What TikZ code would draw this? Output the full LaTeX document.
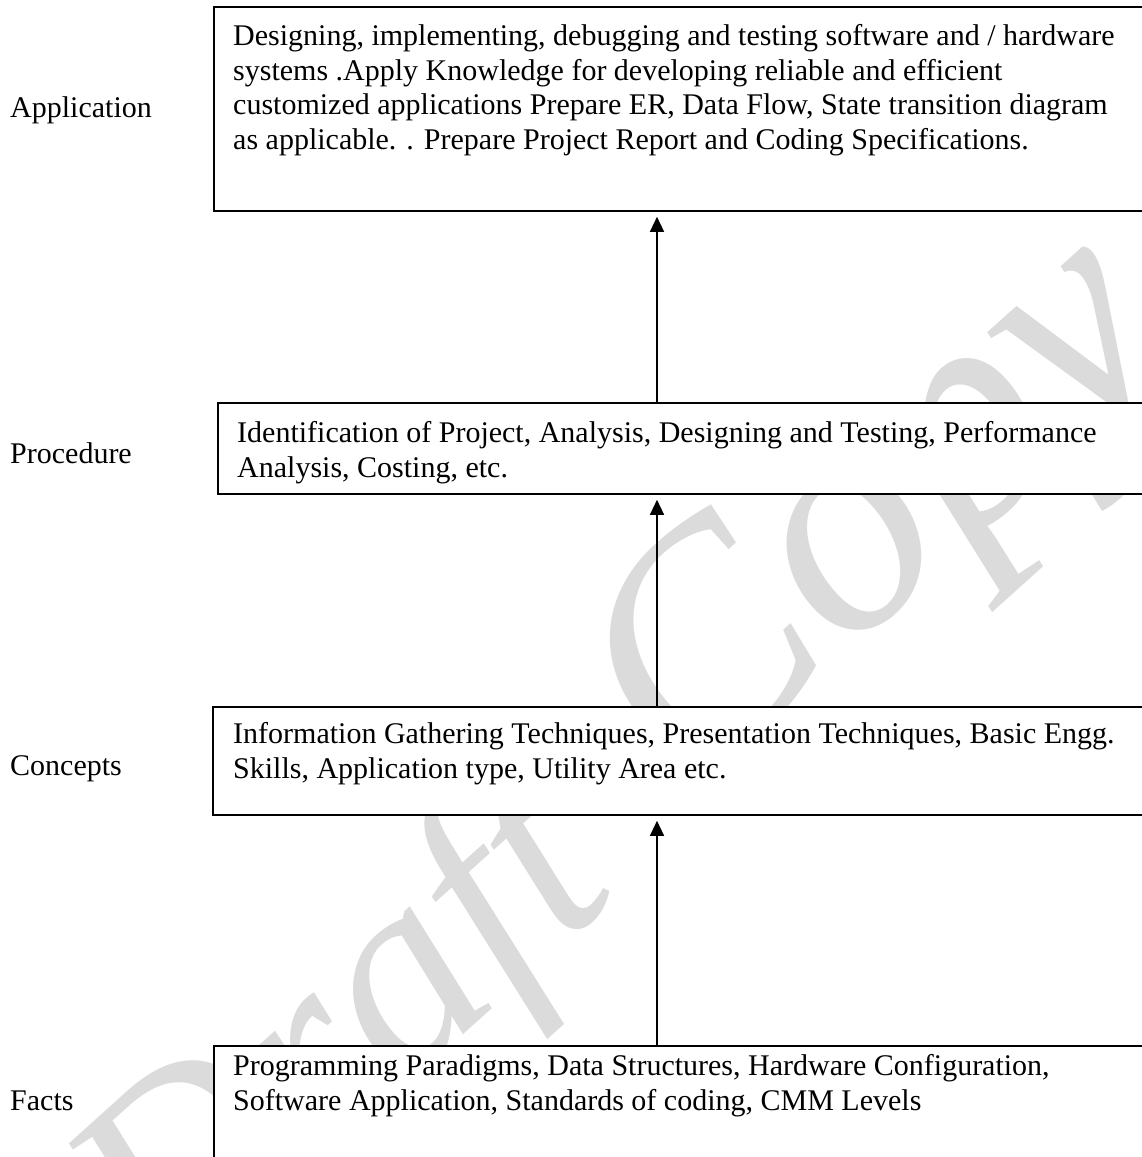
\documentclass[tikz,border=0pt]{standalone}
\usepackage{fontspec}
\setmainfont{Liberation Serif}
\usetikzlibrary{arrows.meta}
\begin{document}
\begin{tikzpicture}[x=1pt,y=-1pt,
  boxst/.style={draw, fill=white, line width=1.8pt, rectangle, inner sep=0pt, anchor=north west},
  txt/.style={anchor=north west, align=left, inner sep=0pt, font=\fontsize{30}{34.4}\selectfont},
  lbl/.style={anchor=base west, inner sep=0pt, font=\fontsize{30}{34.4}\selectfont},
  arr/.style={line width=1.3pt, -{Triangle[length=15pt,width=14pt]}, shorten >=5pt},
  wmark/.style={inner sep=0pt, text=gray!28, rotate=42, font=\fontsize{280}{280}\selectfont\itshape},
  wmarkb/.style={wmark, font=\fontsize{315}{315}\selectfont\itshape}]
\useasboundingbox (0,0) rectangle (1142,1157);
\clip (0,0) rectangle (1142,1157);
\fill[white] (0,0) rectangle (1142,1157);
% watermark
\node[wmark] (wm1) at (350,1045) {Draft};
\node[wmarkb] (wm2) at (888,522) {Copy};
% boxes
\node[boxst, minimum width=1000pt, minimum height=204pt] (appbox) at (213,6) {};
\node[boxst, minimum width=1000pt, minimum height=91pt] (procbox) at (217,402) {};
\node[boxst, minimum width=1000pt, minimum height=108pt] (concbox) at (212,706) {};
\node[boxst, minimum width=1000pt, minimum height=200pt] (factbox) at (213,1045) {};
% texts
\node[txt] (apptxt) at (233,24.5) {Designing, implementing, debugging and testing software and / hardware\\systems .Apply Knowledge for developing reliable and efficient\\customized applications Prepare ER, Data Flow, State transition diagram\\as applicable. . Prepare Project Report and Coding Specifications.};
\node[txt] (proctxt) at (237,421.5) {Identification of Project, Analysis, Designing and Testing, Performance\\Analysis, Costing, etc.};
\node[txt] (conctxt) at (233,722.5) {Information Gathering Techniques, Presentation Techniques, Basic Engg.\\Skills, Application type, Utility Area etc.};
\node[txt] (facttxt) at (233,1054.5) {Programming Paradigms, Data Structures, Hardware Configuration,\\Software Application, Standards of coding, CMM Levels};
% labels
\node[lbl] (applbl) at (10,117) {Application};
\node[lbl] (proclbl) at (10,463) {Procedure};
\node[lbl] (conclbl) at (10,775) {Concepts};
\node[lbl] (factlbl) at (10,1110) {Facts};
% arrows
\coordinate (ax) at (657,0);
\draw[arr] (ax |- procbox.north) -- (ax |- appbox.south);
\draw[arr] (ax |- concbox.north) -- (ax |- procbox.south);
\draw[arr] (ax |- factbox.north) -- (ax |- concbox.south);
\end{tikzpicture}
\end{document}
